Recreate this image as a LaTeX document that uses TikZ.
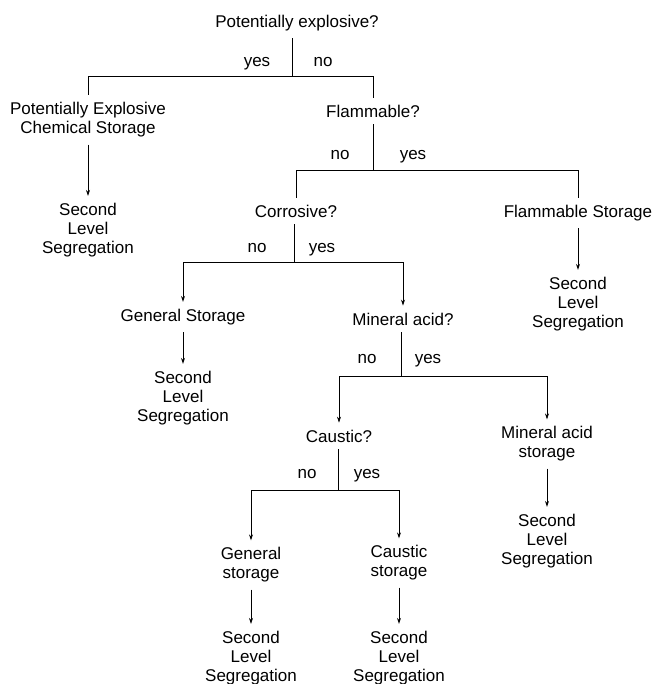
\documentclass[tikz,border=0pt]{standalone}
\usepackage{fontspec}
\setmainfont{Liberation Sans}
\usetikzlibrary{arrows.meta}

\begin{document}
\begin{tikzpicture}[x=1pt,y=-1pt,
        txt/.style={font=\fontsize{17}{19}\selectfont,align=center,inner xsep=0pt,inner ysep=7pt},
        ans/.style={font=\fontsize{17}{19}\selectfont,inner sep=0pt,anchor=base},
        link/.style={line width=0.6pt},
        arr/.style={line width=0.6pt,-{Stealth[length=6pt,width=4pt]}},
        tarr/.style={arr,line width=0.9pt}]
    \useasboundingbox (0,0) rectangle (653,684);
    %% questions
    \node[txt] (expl) at (297,23)  {Potentially explosive?};
    \node[txt] (flam) at (373,111) {Flammable?};
    \node[txt] (corr) at (296,211) {Corrosive?};
    \node[txt] (mina) at (403,319) {Mineral acid?};
    \node[txt] (caus) at (339,436) {Caustic?};
    %% storage classes
    \node[txt] (explst) at (88,120)  {Potentially Explosive\\Chemical Storage};
    \node[txt] (flamst) at (578,213) {Flammable Storage};
    \node[txt] (genst)  at (183,317) {General Storage};
    \node[txt] (minst)  at (547,444) {Mineral acid\\storage};
    \node[txt] (genst2) at (251,565) {General\\storage};
    \node[txt] (causst) at (399,563) {Caustic\\storage};
    %% second level
    \foreach \n/\x/\y in {sec1/88/230,sec2/578/304,sec3/183/398,sec4/547/541,sec5/251/658,sec6/399/658}
        \node[txt] (\n) at (\x,\y) {Second\\Level\\Segregation};
    %% branch points
    \coordinate (explj) at (292,76);
    \coordinate (flamj) at (373,170);
    \coordinate (corrj) at (294,262);
    \coordinate (minaj) at (401,376);
    \coordinate (causj) at (338,490);
    \foreach \q in {expl,flam,corr,mina,caus}
        \draw[link] (\q.south -| \q j) -- (\q j);
    %% yes / no
    \node[ans] (explyes) at (257,67)  {yes};
    \node[ans] (explno)  at (323,67)  {no};
    \node[ans] (flamno)  at (340,160) {no};
    \node[ans] (flamyes) at (413,160) {yes};
    \node[ans] (corrno)  at (257,252) {no};
    \node[ans] (corryes) at (322,252) {yes};
    \node[ans] (minano)  at (367,363) {no};
    \node[ans] (minayes) at (428,363) {yes};
    \node[ans] (causno)  at (307,478) {no};
    \node[ans] (causyes) at (367,478) {yes};
    %% branches
    \draw[link] (explj) -| (explst);
    \draw[link] (explj) -| (flam);
    \draw[link] (flamj) -| (corr);
    \draw[link] (flamj) -| (flamst);
    \draw[tarr] (corrj) -| (genst);
    \draw[tarr] (corrj) -| (mina);
    \draw[arr]  (minaj) -| (caus);
    \draw[arr]  (minaj) -| (minst);
    \draw[tarr] (causj) -| (genst2);
    \draw[tarr] (causj) -| (causst);
    %% to second level
    \draw[arr]  (explst) -- (sec1);
    \draw[tarr] (flamst) -- (sec2);
    \draw[tarr] (genst)  -- (sec3);
    \draw[tarr] (minst)  -- (sec4);
    \draw[arr]  (genst2) -- (sec5);
    \draw[tarr] (causst) -- (sec6);
\end{tikzpicture}
\end{document}
